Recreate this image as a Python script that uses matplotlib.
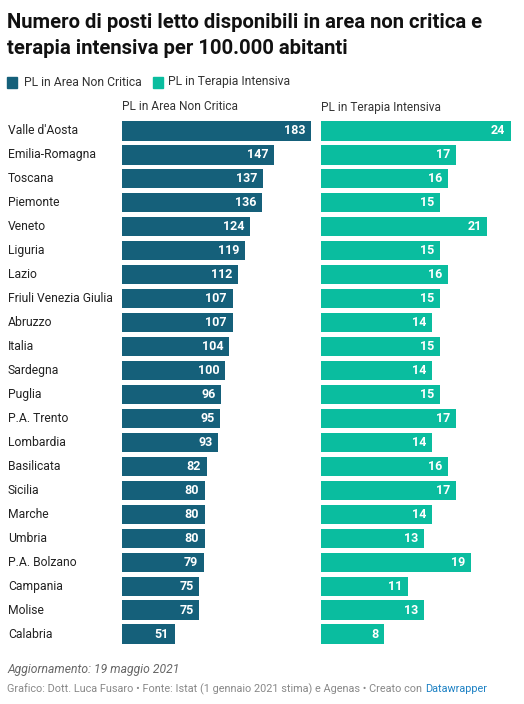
import matplotlib as mpl
mpl.use('Agg')
import matplotlib.pyplot as plt

plt.rcParams['font.family'] = ['Roboto', 'DejaVu Sans']

regioni = ["Valle d'Aosta", "Emilia-Romagna", "Toscana", "Piemonte", "Veneto",
           "Liguria", "Lazio", "Friuli Venezia Giulia", "Abruzzo", "Italia",
           "Sardegna", "Puglia", "P.A. Trento", "Lombardia", "Basilicata",
           "Sicilia", "Marche", "Umbria", "P.A. Bolzano", "Campania",
           "Molise", "Calabria"]
non_critica = [183, 147, 137, 136, 124, 119, 112, 107, 107, 104, 100, 96, 95,
               93, 82, 80, 80, 80, 79, 75, 75, 51]
terapia_int = [24, 17, 16, 15, 21, 15, 16, 15, 14, 15, 14, 15, 17, 14, 16,
               17, 14, 13, 19, 11, 13, 8]
serie = ["PL in Area Non Critica", "PL in Terapia Intensiva"]

COL_DARK = '#15607a'
COL_GREEN = '#0abd9f'

W, H = 524, 704
fig = plt.figure(figsize=(W / 100, H / 100), dpi=100)


def px_axes(x0, y0, x1, y1):
    # axes from pixel box (top-left origin)
    return fig.add_axes([x0 / W, 1 - y1 / H, (x1 - x0) / W, (y1 - y0) / H])


n = len(regioni)
top, bottom = 119, 646

ax1 = px_axes(122, top, 311, bottom)
ax2 = px_axes(321, top, 511, bottom)

for ax, vals, col, vmax in [(ax1, non_critica, COL_DARK, 183),
                            (ax2, terapia_int, COL_GREEN, 24)]:
    ax.barh(range(n), vals, height=0.8, color=col)
    ax.set_xlim(0, vmax)
    ax.set_ylim(n - 0.5, -0.5)
    ax.axis('off')
    for i, v in enumerate(vals):
        ax.text(v - vmax * 0.03, i, str(v), ha='right', va='center',
                color='white', fontsize=9, fontweight='bold')

# row labels
for i, r in enumerate(regioni):
    ax1.text(-114 / 189 * 183, i, r, ha='left', va='center', fontsize=8.7,
             color='#222222', clip_on=False)

# column headers
fig.text(122 / W, 1 - 107 / H, serie[0], ha='left', va='center', fontsize=8.6, color='#333333')
fig.text(321 / W, 1 - 107 / H, serie[1], ha='left', va='center', fontsize=8.6, color='#333333')

# title
fig.text(7 / W, 1 - 22 / H, "Numero di posti letto disponibili in area non critica e",
         ha='left', va='center', fontsize=14.6, fontweight='bold', color='#111111')
fig.text(7 / W, 1 - 48 / H, "terapia intensiva per 100.000 abitanti",
         ha='left', va='center', fontsize=14.6, fontweight='bold', color='#111111')

# legend
fig.patches.append(plt.Rectangle((7 / W, 1 - 88 / H), 10 / W, 11 / H,
                                 transform=fig.transFigure, color=COL_DARK))
fig.text(24 / W, 1 - 82 / H, serie[0], ha='left', va='center', fontsize=8.7, color='#333333')
fig.patches.append(plt.Rectangle((153 / W, 1 - 88 / H), 10 / W, 11 / H,
                                 transform=fig.transFigure, color=COL_GREEN))
fig.text(168 / W, 1 - 82 / H, serie[1], ha='left', va='center', fontsize=8.7, color='#333333')

# footer
fig.text(7 / W, 1 - 670 / H, "Aggiornamento: 19 maggio 2021", ha='left', va='center',
         fontsize=8.7, style='italic', color='#666666')
t = fig.text(7 / W, 1 - 689 / H,
             "Grafico: Dott. Luca Fusaro \u2022 Fonte: Istat (1 gennaio 2021 stima) e Agenas \u2022 Creato con ",
             ha='left', va='center', fontsize=7.8, color='#888888')
fig.canvas.draw()
bb = t.get_window_extent()
fig.text(bb.x1 / W, 1 - 689 / H, "Datawrapper", ha='left', va='center',
         fontsize=7.8, color='#1d81c4')

fig.savefig('out.png', dpi=100)
